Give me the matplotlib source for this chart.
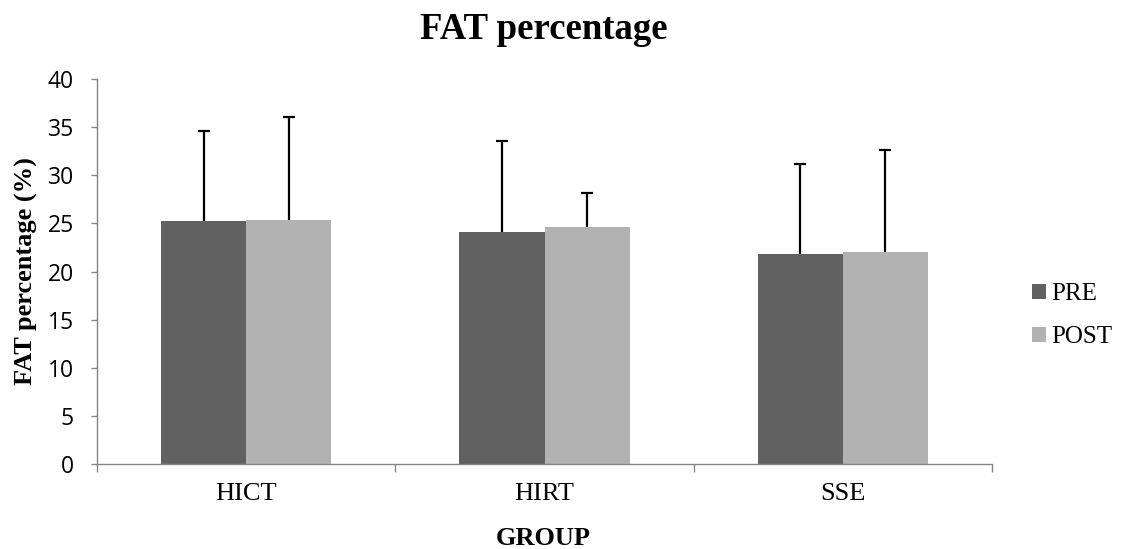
import matplotlib
matplotlib.use("Agg")
import matplotlib.pyplot as plt
import numpy as np

groups = ["HICT", "HIRT", "SSE"]
pre_mean = [25.2, 24.1, 21.8]
post_mean = [25.35, 24.6, 22.0]
pre_sd = [9.4, 9.45, 9.4]
post_sd = [10.7, 3.6, 10.6]

PRE_COLOR = "#616161"
POST_COLOR = "#b2b2b2"
AXIS_COLOR = "#868686"
SERIF = "Liberation Serif"

fig = plt.figure(figsize=(11.24, 5.49), dpi=100)
ax = fig.add_axes([0.0863, 0.1548, 0.7963, 0.7012])

x = np.arange(len(groups))
w = 0.285
err_kw = dict(ecolor="black", elinewidth=1.6, capsize=4, capthick=1.6)
bars_pre = ax.bar(x - w / 2, pre_mean, w, color=PRE_COLOR, label="PRE",
                  yerr=[np.zeros(3), pre_sd], error_kw=err_kw, zorder=2)
bars_post = ax.bar(x + w / 2, post_mean, w, color=POST_COLOR, label="POST",
                   yerr=[np.zeros(3), post_sd], error_kw=err_kw, zorder=2)
# only the upper cap is shown
for b in (bars_pre, bars_post):
    b.errorbar.lines[1][0].set_visible(False)

ax.set_xlim(-0.5, 2.5)
ax.set_ylim(0, 40)
ax.set_yticks(range(0, 41, 5))

ax.set_xticks(x)
ax.set_xticklabels(groups, family=SERIF, fontsize=19)
ax.set_xticks([-0.5, 0.5, 1.5, 2.5], minor=True)
ax.tick_params(axis="x", which="major", length=0, pad=14)
ax.tick_params(axis="x", which="minor", length=6, color=AXIS_COLOR, width=1)
ax.tick_params(axis="y", length=4.5, color=AXIS_COLOR, width=1, pad=12,
               labelsize=16.5)
for lbl in ax.get_yticklabels():
    lbl.set_family("Open Sans")

for s in ["top", "right"]:
    ax.spines[s].set_visible(False)
for s in ["left", "bottom"]:
    ax.spines[s].set_color(AXIS_COLOR)
    ax.spines[s].set_linewidth(1)

fig.text(544 / 1124, 1 - 39 / 549, "FAT percentage", family=SERIF,
         fontweight="bold", fontsize=26.5, ha="center", va="baseline")
fig.text(543 / 1124, 4 / 549, "GROUP", family=SERIF, fontweight="bold",
         fontsize=19, ha="center", va="baseline")
fig.text(26 / 1124, 1 - 271 / 549, "FAT percentage (%)", family=SERIF,
         fontweight="bold", fontsize=19, ha="center", va="center",
         rotation=90)

fig.legend(handles=[bars_pre, bars_post], labels=["PRE", "POST"],
           loc="upper left", bbox_to_anchor=(1032 / 1124, 1 - 283 / 549),
           frameon=False, prop={"family": SERIF, "size": 18},
           borderpad=0, borderaxespad=0,
           handlelength=0.56, handleheight=0.56, handletextpad=0.2,
           labelspacing=0.85)

fig.savefig("out.png", dpi=100)
